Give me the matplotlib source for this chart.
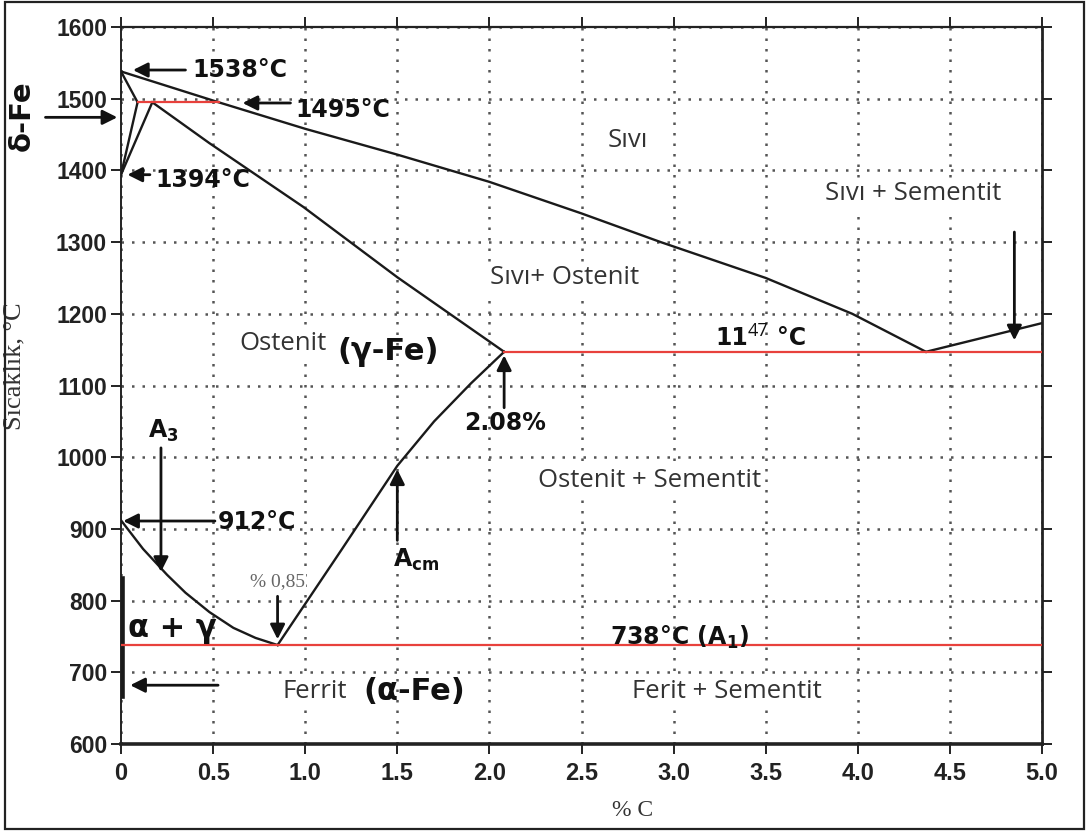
import matplotlib
matplotlib.use("Agg")
import matplotlib.pyplot as plt
from matplotlib.patches import Rectangle

# Fe–Fe3C phase diagram (carbon wt-% vs temperature °C)
liquidus_x = [0.0, 0.53, 1.0, 1.5, 2.0, 2.5, 2.93, 3.5, 3.97, 4.37]
liquidus_T = [1538, 1495, 1458, 1422, 1384, 1340, 1300, 1250, 1200, 1147]
cem_liquidus_x = [4.37, 5.0]
cem_liquidus_T = [1147, 1187]
solidus_x = [0.17, 0.48, 0.99, 1.50, 2.08]
solidus_T = [1495, 1438, 1349, 1251, 1147]
delta_upper_x = [0.0, 0.09]
delta_upper_T = [1538, 1495]
delta_lower_x = [0.0, 0.09]
delta_lower_T = [1394, 1495]
delta_gamma_x = [0.0, 0.17]
delta_gamma_T = [1394, 1495]
a3_x = [0.0, 0.12, 0.25, 0.35, 0.48, 0.61, 0.73, 0.85]
a3_T = [912, 872, 836, 811, 784, 762, 748, 738]
acm_x = [0.85, 1.2, 1.5, 1.7, 1.9, 2.08]
acm_T = [738, 872, 988, 1050, 1103, 1147]

peritectic_x = [0.09, 0.53]
peritectic_T = 1495
eutectic_x = [2.08, 5.0]
eutectic_T = 1147
eutectoid_x = [0.0, 5.0]
eutectoid_T = 738
eutectoid_C = 0.85
ferrite_edge_T = [831, 666]

x_ticks = [0, 0.5, 1.0, 1.5, 2.0, 2.5, 3.0, 3.5, 4.0, 4.5, 5.0]
x_tick_labels = ["0", "0.5", "1.0", "1.5", "2.0", "2.5", "3.0", "3.5", "4.0", "4.5", "5.0"]
y_ticks = [600, 700, 800, 900, 1000, 1100, 1200, 1300, 1400, 1500, 1600]

W, H = 1089, 832
fig = plt.figure(figsize=(W / 100, H / 100), dpi=100)
fig.patch.set_facecolor("white")
fig.add_artist(Rectangle((5 / W, 3 / H), 1079 / W, 827 / H, transform=fig.transFigure,
                         fill=False, edgecolor="#222222", lw=1.6))

ax = fig.add_axes([121 / W, 1 - 744 / H, (1042 - 121) / W, (744 - 27) / H])
ax.set_xlim(0, 5.0)
ax.set_ylim(600, 1600)

# grid
ax.set_xticks(x_ticks)
ax.set_xticklabels(x_tick_labels)
ax.set_yticks(y_ticks)
ax.grid(True, color="#555555", linestyle=(0, (1, 3.2)), linewidth=1.8, zorder=0)
ax.set_axisbelow(True)

for side, lw in [("left", 1.4), ("bottom", 2.6), ("top", 1.6), ("right", 2.0)]:
    ax.spines[side].set_linewidth(lw)
    ax.spines[side].set_color("#222222")

ax.tick_params(axis="both", direction="out", length=7, width=1.4, colors="#222222",
               top=True, right=True, labeltop=False, labelright=False)
ax.tick_params(axis="x", pad=6)
ax.tick_params(axis="y", pad=3)
for lab in ax.get_yticklabels():
    lab.set_fontfamily("Liberation Sans")
    lab.set_fontweight("bold")
    lab.set_fontsize(16.5)
for lab in ax.get_xticklabels():
    lab.set_fontfamily("Liberation Sans")
    lab.set_fontweight("bold")
    lab.set_fontsize(17)

ax.set_xlabel("% C", family="Liberation Serif", fontsize=17, color="#333333")
ax.xaxis.set_label_coords((633 - 121) / 921, -(800 - 744) / 717)
ax.set_ylabel("Sıcaklık, °C", family="Liberation Serif", fontsize=19, color="#333333")
ax.yaxis.set_label_coords((25 - 121) / 921, (744 - 366) / 717)

# phase boundaries
line_kw = dict(color="#1a1a1a", lw=1.7, zorder=3)
ax.plot(liquidus_x, liquidus_T, **line_kw)
ax.plot(cem_liquidus_x, cem_liquidus_T, **line_kw)
ax.plot(solidus_x, solidus_T, **line_kw)
ax.plot(delta_upper_x, delta_upper_T, **line_kw)
ax.plot(delta_lower_x, delta_lower_T, **line_kw)
ax.plot(delta_gamma_x, delta_gamma_T, **line_kw)
ax.plot(a3_x, a3_T, **line_kw)
ax.plot(acm_x, acm_T, **line_kw)
ax.plot([0.012, 0.012], ferrite_edge_T, color="#1a1a1a", lw=2.6, zorder=3)

# invariant reactions
red_kw = dict(color="#e8413c", lw=1.6, zorder=4)
ax.plot(peritectic_x, [peritectic_T] * 2, **red_kw)
ax.plot(eutectic_x, [eutectic_T] * 2, **red_kw)
ax.plot(eutectoid_x, [eutectoid_T] * 2, **red_kw)


def arrow(tail, head):
    return ax.annotate("", xy=head, xytext=tail,
                       arrowprops=dict(arrowstyle="-|>", lw=2.0, color="#111111",
                                       mutation_scale=22, shrinkA=0, shrinkB=0),
                       zorder=5, annotation_clip=False)


bold_kw = dict(family="DejaVu Sans", fontweight="bold", fontsize=17, color="#111111", zorder=6)
big_kw = dict(family="DejaVu Sans", fontweight="bold", fontsize=22, color="#111111", zorder=6,
              ha="center", va="center")
region_kw = dict(family="Open Sans", fontsize=18.5, color="#333333", zorder=6,
                 ha="center", va="center",
                 bbox=dict(boxstyle="square,pad=0.12", fc="white", ec="none"))

# temperature call-outs
arrow((0.35, 1540), (0.065, 1540))
ax.text(0.385, 1540, "1538°C", ha="left", va="center", **bold_kw)
arrow((0.92, 1494), (0.66, 1494))
ax.text(0.945, 1484, "1495°C", ha="left", va="center", **bold_kw)
arrow((0.157, 1394), (0.035, 1394))
ax.text(0.185, 1387, "1394°C", ha="left", va="center", **bold_kw)
arrow((0.51, 911), (0.012, 911))
ax.text(0.527, 910, "912°C", ha="left", va="center", **bold_kw)

# δ-Fe label left of the axis
ax.text(-0.537, 1477, "δ-Fe", rotation=90, ha="center", va="center", clip_on=False,
        family="DejaVu Sans", fontweight="bold", fontsize=21, color="#111111")
arrow((-0.41, 1474), (-0.02, 1474))

# A3, Acm, eutectoid
ax.text(0.23, 1037, "A$_\\mathbf{3}$", ha="center", va="center", **bold_kw)
arrow((0.217, 1013), (0.217, 840))
ax.text(eutectoid_C, 826, "% 0,85", ha="center", va="center",
        family="Liberation Serif", fontsize=14, color="#666666", zorder=6,
        bbox=dict(boxstyle="square,pad=0.05", fc="white", ec="none"))
arrow((eutectoid_C, 806), (eutectoid_C, 746))
ax.text(0.28, 759, "α + γ", **big_kw)
arrow((0.527, 682), (0.05, 682))

ax.text(1.6, 857, "A$_\\mathbf{cm}$", ha="center", va="center", **bold_kw)
arrow((1.5, 884), (1.5, 983))
ax.text(2.085, 1048, "2.08%", ha="center", va="center", **bold_kw)
arrow((2.08, 1069), (2.08, 1142))

ax.text(3.03, 749, "738°C (A$_\\mathbf{1}$)", ha="center", va="center", **bold_kw)

ax.text(3.225, 1166, "11", ha="left", va="center", **bold_kw)
ax.text(3.40, 1176, "47", ha="left", va="center", family="Open Sans", fontsize=13,
        color="#111111", zorder=6)
ax.text(3.56, 1166, "°C", ha="left", va="center", **bold_kw)

arrow((4.85, 1314), (4.85, 1163))

# phase fields
ax.text(2.75, 1442, "Sıvı", **region_kw)
ax.text(4.30, 1368, "Sıvı + Sementit", **region_kw)
ax.text(2.41, 1250, "Sıvı+ Ostenit", **region_kw)
ax.text(0.88, 1159, "Ostenit", **region_kw)
ax.text(1.45, 1147, "(γ-Fe)", **big_kw)
ax.text(2.87, 968, "Ostenit + Sementit", **region_kw)
ax.text(1.05, 673, "Ferrit", **region_kw)
ax.text(1.59, 673, "(α-Fe)", **big_kw)
ax.text(3.29, 673, "Ferit + Sementit", **region_kw)

fig.savefig("out.png", dpi=100, facecolor="white")
